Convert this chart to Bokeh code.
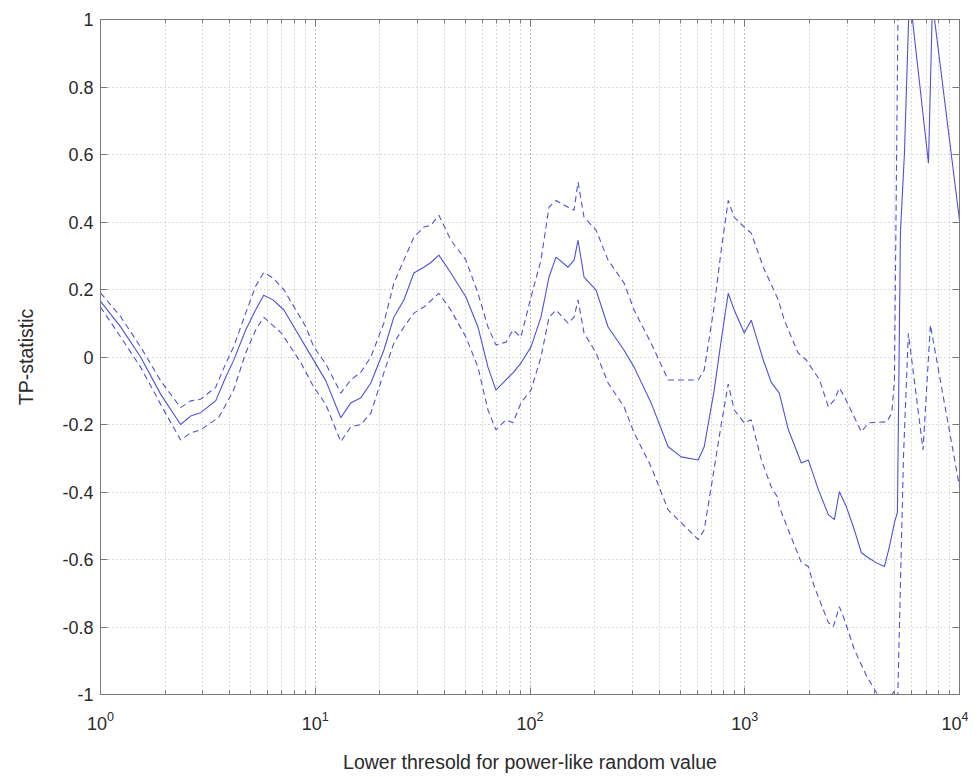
from bokeh.plotting import figure
from bokeh.models import (Range1d, LogAxis, LinearAxis, FixedTicker, LogTicker)
from bokeh.embed import file_html
from bokeh.resources import INLINE

# ---------------- data ----------------
center_x = [1.0, 1.239, 1.537, 1.905, 2.360, 2.628, 2.926, 3.437, 3.826, 4.169,
            4.743, 5.280, 5.753, 6.337, 7.132, 8.113, 9.031, 9.840, 11.19, 13.15,
            14.64, 16.30, 18.15, 20.86, 23.23, 25.86, 28.79, 32.05, 34.56, 37.65,
            42.82, 50.30, 57.24, 63.72, 69.41, 77.28, 83.30, 90.77, 101.1, 112.5,
            122.6, 132.2, 150.4, 160.4, 167.4, 178.5, 203.1, 231.0, 274.3, 305.3,
            366.5, 439.9, 505.8, 607.1, 647.5, 720.8, 777.0, 837.7, 893.3, 994.7,
            1072, 1220, 1329, 1448, 1595, 1834, 1977, 2201, 2451, 2614,
            2758, 2973, 3239, 3493, 3766, 4104, 4471, 4718, 4978, 5140,
            5309, 5541, 5848, 7170, 7483, 10000]
center_y = [0.165, 0.09, 0.0, -0.11, -0.20, -0.175, -0.165, -0.13, -0.06, -0.01,
            0.08, 0.14, 0.183, 0.17, 0.14, 0.08, 0.03, -0.01, -0.07, -0.18,
            -0.136, -0.121, -0.077, 0.02, 0.118, 0.169, 0.249, 0.266, 0.28, 0.302,
            0.249, 0.178, 0.089, -0.03, -0.098, -0.068, -0.047, -0.018, 0.03, 0.118,
            0.237, 0.296, 0.266, 0.287, 0.346, 0.237, 0.198, 0.089, 0.02, -0.03,
            -0.136, -0.266, -0.296, -0.305, -0.266, -0.098, 0.05, 0.189, 0.139, 0.071,
            0.109, -0.009, -0.075, -0.107, -0.215, -0.314, -0.305, -0.393, -0.467, -0.482,
            -0.399, -0.444, -0.512, -0.58, -0.595, -0.61, -0.621, -0.562, -0.491, -0.46,
            0.37, 0.603, 1.08, 0.574, 1.05, 0.405]

upper_x = [1.0, 1.239, 1.537, 1.905, 2.360, 2.628, 2.926, 3.437, 3.826, 4.169,
           4.743, 5.280, 5.753, 6.337, 7.132, 8.113, 9.031, 9.840, 11.19, 13.15,
           14.64, 16.30, 18.15, 20.86, 23.23, 25.86, 28.79, 32.05, 34.56, 37.65,
           42.82, 50.30, 57.24, 63.72, 69.41, 77.28, 83.30, 90.77, 101.1, 112.5,
           122.6, 132.2, 150.4, 160.4, 167.4, 178.5, 203.1, 231.0, 274.3, 305.3,
           366.5, 439.9, 505.8, 607.1, 647.5, 720.8, 777.0, 837.7, 893.3, 994.7,
           1072, 1220, 1433, 1528, 1772, 1936, 2231, 2451, 2614, 2758,
           2912, 3493, 3766, 4586, 4837, 4978, 5222, 10000]
upper_y = [0.19, 0.12, 0.03, -0.07, -0.15, -0.13, -0.125, -0.09, -0.02, 0.03,
           0.13, 0.21, 0.25, 0.235, 0.20, 0.14, 0.09, 0.03, -0.02, -0.107,
           -0.068, -0.045, 0.0, 0.1, 0.219, 0.287, 0.355, 0.385, 0.39, 0.42,
           0.346, 0.287, 0.189, 0.089, 0.036, 0.044, 0.08, 0.059, 0.178, 0.287,
           0.444, 0.464, 0.444, 0.435, 0.518, 0.414, 0.376, 0.287, 0.219, 0.139,
           0.041, -0.068, -0.068, -0.068, -0.039, 0.15, 0.317, 0.464, 0.414, 0.385,
           0.367, 0.266, 0.169, 0.109, 0.012, -0.009, -0.068, -0.148, -0.127, -0.092,
           -0.118, -0.222, -0.195, -0.192, -0.166, -0.068, 1.3, 1.3]

lower_x = [1.0, 1.239, 1.537, 1.905, 2.360, 2.628, 2.926, 3.562, 4.169, 4.743,
           5.280, 5.753, 6.960, 8.589, 9.840, 11.19, 13.15, 14.64, 16.30, 18.15,
           20.86, 23.23, 25.86, 28.79, 32.05, 37.65, 42.82, 50.30, 57.24, 63.72,
           69.41, 77.28, 83.30, 90.77, 101.1, 112.5, 122.6, 132.2, 150.4, 160.4,
           167.4, 178.5, 203.1, 231.0, 274.3, 305.3, 366.5, 439.9, 505.8, 607.1,
           647.5, 720.8, 777.0, 837.7, 893.3, 994.7, 1072, 1195, 1329, 1417,
           1448, 1595, 1834, 1977, 2107, 2451, 2585, 2758, 2912, 3239,
           3703, 4104, 4471, 4978, 5140, 5481, 5780, 6766, 7317, 10000]
lower_y = [0.148, 0.06, -0.03, -0.14, -0.246, -0.225, -0.216, -0.178, -0.098, 0.012,
           0.08, 0.118, 0.071, -0.018, -0.089, -0.14, -0.251, -0.207, -0.2, -0.166,
           -0.047, 0.041, 0.089, 0.13, 0.148, 0.189, 0.139, 0.059, -0.03, -0.157,
           -0.216, -0.186, -0.195, -0.136, -0.098, 0.0, 0.118, 0.139, 0.1, 0.118,
           0.169, 0.071, 0.012, -0.077, -0.148, -0.225, -0.325, -0.453, -0.491, -0.541,
           -0.512, -0.33, -0.2, -0.08, -0.157, -0.195, -0.186, -0.305, -0.385, -0.414,
           -0.444, -0.512, -0.609, -0.621, -0.68, -0.787, -0.799, -0.74, -0.778, -0.867,
           -0.947, -0.994, -1.03, -0.99, -1.05, -0.3, 0.07, -0.275, 0.095, -0.385]

y_ticks = [-1.0, -0.8, -0.6, -0.4, -0.2, 0.0, 0.2, 0.4, 0.6, 0.8, 1.0]
y_tick_labels = ["-1", "-0.8", "-0.6", "-0.4", "-0.2", "0", "0.2", "0.4", "0.6", "0.8", "1"]

x_label = "Lower thresold for power-like random value"
y_label = "TP-statistic"

# ---------------- styling ----------------
LINE = "#5050dc"
AXIS = "#7a7a7a"
GRID = "#b4b4b4"
FONT = "Liberation Sans"

p = figure(width=968, height=775, x_axis_type="log",
           x_range=Range1d(1, 10000), y_range=Range1d(-1, 1),
           output_backend="svg", toolbar_location=None,
           min_border_left=100, min_border_right=9,
           min_border_top=19, min_border_bottom=80)
p.background_fill_color = "white"
p.border_fill_color = "white"
p.outline_line_color = AXIS
p.outline_line_width = 1

p.line(center_x, center_y, line_color=LINE, line_width=1.1)
p.line(upper_x, upper_y, line_color=LINE, line_width=1.1, line_dash="6 4")
p.line(lower_x, lower_y, line_color=LINE, line_width=1.1, line_dash="6 4")

xticker = LogTicker(num_minor_ticks=10)
yticker = FixedTicker(ticks=y_ticks)
overrides = {t: s for t, s in zip(y_ticks, y_tick_labels)}

def style_axis(ax, minor=True):
    ax.axis_line_color = AXIS
    ax.major_tick_line_color = AXIS
    ax.major_tick_in = 7
    ax.major_tick_out = 0
    if minor:
        ax.minor_tick_line_color = AXIS
        ax.minor_tick_in = 4
        ax.minor_tick_out = 0
    else:
        ax.minor_tick_line_color = None
    ax.major_label_text_font = FONT
    ax.major_label_text_font_size = "18px"
    ax.major_label_text_color = "#2a2a2a"
    ax.axis_label_text_font = FONT
    ax.axis_label_text_font_size = "19.5px"
    ax.axis_label_text_font_style = "normal"
    ax.axis_label_text_color = "#2a2a2a"

xa = p.xaxis[0]
xa.ticker = xticker
style_axis(xa)
xa.axis_label = x_label
xa.major_label_standoff = 16
xa.axis_label_standoff = 18

ya = p.yaxis[0]
ya.ticker = yticker
ya.major_label_overrides = overrides
style_axis(ya, minor=False)
ya.axis_label = y_label
ya.major_label_standoff = 7
ya.axis_label_standoff = 22

top = LogAxis(ticker=xticker)
style_axis(top)
top.major_label_text_font_size = "1px"
top.major_label_text_color = None
top.major_label_standoff = 0
p.add_layout(top, "above")

right = LinearAxis(ticker=yticker)
style_axis(right, minor=False)
right.major_label_text_font_size = "1px"
right.major_label_text_color = None
right.major_label_standoff = 0
p.add_layout(right, "right")

p.xgrid.ticker = xticker
p.xgrid.grid_line_color = GRID
p.xgrid.grid_line_dash = "1 3"
p.xgrid.minor_grid_line_color = GRID
p.xgrid.minor_grid_line_dash = "1 3"
p.ygrid.ticker = yticker
p.ygrid.grid_line_color = GRID
p.ygrid.grid_line_dash = "1 3"

open("out.html", "w").write(file_html(p, INLINE))
